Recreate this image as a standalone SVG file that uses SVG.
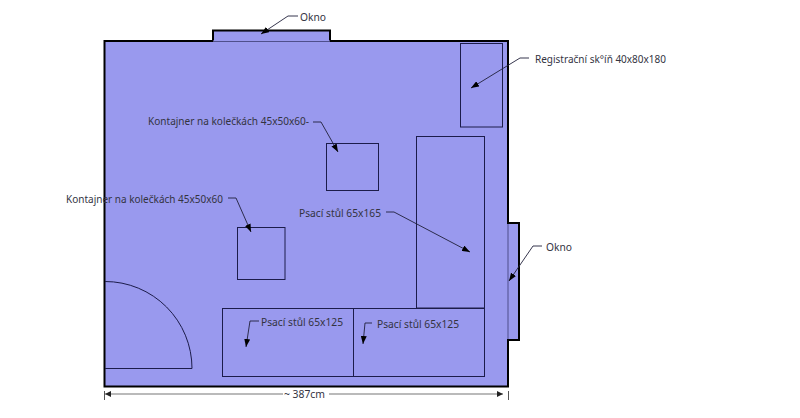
<svg xmlns="http://www.w3.org/2000/svg" width="800" height="418" viewBox="0 0 800 418">
<style>
.wall{fill:#9999ee;stroke:#000;stroke-width:2}
.item{fill:none;stroke:#1c1c4a;stroke-width:1}
.lead{fill:none;stroke:#20203a;stroke-width:.9;marker-end:url(#a)}
.dim{fill:none;stroke:#777;stroke-width:1.2}
text{font-family:"Noto Sans","Liberation Sans",Arial,sans-serif;font-size:11.500px;fill:#33333f}
</style>
<defs>
<marker id="a" markerUnits="userSpaceOnUse" markerWidth="9" markerHeight="6" refX="8" refY="3" orient="auto"><path d="M0 0L8 3L0 6z" fill="#000"/></marker>
<marker id="d" markerUnits="userSpaceOnUse" markerWidth="7" markerHeight="6" refX="6" refY="3" orient="auto-start-reverse"><path d="M0 0L6 3L0 6z" fill="#222"/></marker>
</defs>
<rect width="800" height="418" fill="#fff"/>
<g id="room">
<path class="wall" d="M104.500 41H213V30.500H330V41H508V223H519V340H508V386.500H104.500Z"/>
<path d="M213.500 41H329.500M508 224V339" stroke="#9999ee" stroke-width="2" fill="none"/>
<path d="M214 41.500H329M508 224V339" stroke="#1c1c4a" stroke-width=".6" fill="none"/>
</g>
<g id="cabinet"><rect class="item" x="460.500" y="43.500" width="42" height="83.500"/></g>
<g id="desk-165"><rect class="item" x="416.500" y="136.500" width="68" height="171.500"/></g>
<g id="container-1"><rect class="item" x="326.500" y="143.500" width="52" height="47"/></g>
<g id="container-2"><rect class="item" x="237.500" y="227.500" width="47.500" height="52"/></g>
<g id="desk-125-a"><rect class="item" x="222.500" y="308.500" width="131" height="68"/></g>
<g id="desk-125-b"><rect class="item" x="353.500" y="308.500" width="131" height="68"/></g>
<g id="door"><path class="item" d="M105 281.500A87 87 0 0 1 192 368.500H105"/></g>
<g id="connectors">
<path class="lead" d="M298 16H288L261 34"/>
<path class="lead" d="M313 122H321L338 152"/>
<path class="lead" d="M228 198H236L251 232"/>
<path class="lead" d="M529 58H520L471 88"/>
<path class="lead" d="M386 212H394L470 252"/>
<path class="lead" d="M259 321H250L246 347"/>
<path class="lead" d="M372 323H365L363 344"/>
<path class="lead" d="M542 246H533L509 281"/>
<path class="dim" d="M105 394H283" marker-start="url(#d)"/>
<path class="dim" d="M329 394H503" marker-end="url(#d)"/>
<path d="M104.500 391V400M508.500 391V400" stroke="#555" fill="none"/>
</g>
<g id="labels">
<text x="300" y="21" textLength="26" lengthAdjust="spacingAndGlyphs">Okno</text>
<text x="535" y="63" textLength="131" lengthAdjust="spacingAndGlyphs">Registrační sk°íň 40x80x180</text>
<text x="148" y="125" textLength="161" lengthAdjust="spacingAndGlyphs">Kontajner na kolečkách 45x50x60-</text>
<text x="66" y="203" textLength="157" lengthAdjust="spacingAndGlyphs">Kontajner na kolečkách 45x50x60</text>
<text x="299" y="217" textLength="82" lengthAdjust="spacingAndGlyphs">Psací stůl 65x165</text>
<text x="261" y="326" textLength="82" lengthAdjust="spacingAndGlyphs">Psací stůl 65x125</text>
<text x="377" y="328" textLength="82" lengthAdjust="spacingAndGlyphs">Psací stůl 65x125</text>
<text x="546" y="251" textLength="26" lengthAdjust="spacingAndGlyphs">Okno</text>
<text x="284" y="398" textLength="41" lengthAdjust="spacingAndGlyphs">~ 387cm</text>
</g>
</svg>
